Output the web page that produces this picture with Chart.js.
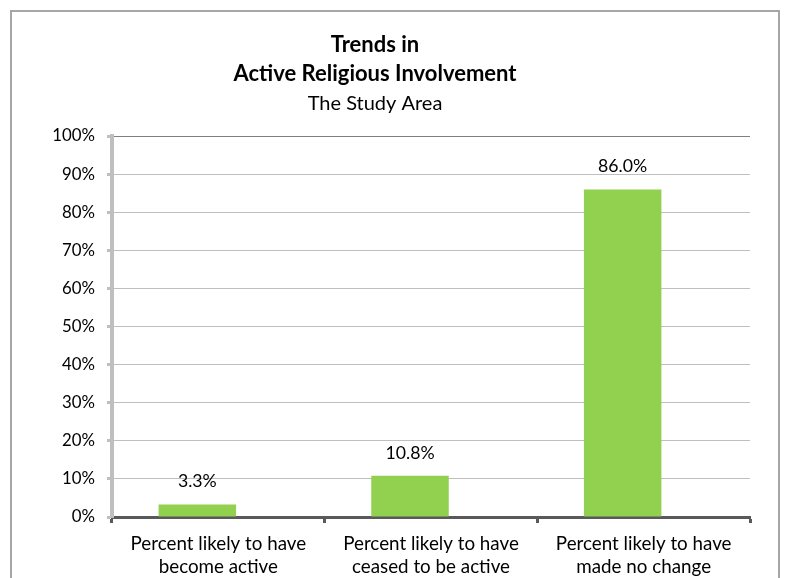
<!DOCTYPE html>
<html>
<head>
<meta charset="utf-8">
<script src="https://cdn.jsdelivr.net/npm/chart.js@4.4.1/dist/chart.umd.min.js"></script>
<style>
  html, body { margin: 0; padding: 0; background: #fff; overflow: hidden; }
  #frame {
    position: absolute; left: 10px; top: 10px;
    width: 766px; height: 620px;
    border: 2px solid #a6a6a6;
    background: #fff;
  }
  #wrap { position: absolute; left: 0; top: 0; width: 779px; height: 578px; }
</style>
</head>
<body>
<div id="frame"></div>
<div id="wrap"><canvas id="myChart"></canvas></div>
<script>
var categories = [
  ['Percent likely to have', 'become active'],
  ['Percent likely to have', 'ceased to be active'],
  ['Percent likely to have', 'made no change']
];
var involvement = [3.3, 10.8, 86.0];
var emptySeries = [0, 0, 0];
var valueLabels = ['3.3%', '10.8%', '86.0%'];

var FONT = "Lato, 'Open Sans', sans-serif";

// value labels sitting above each bar of the first series
var barLabels = {
  id: 'barLabels',
  afterDatasetsDraw: function (chart) {
    var ctx = chart.ctx;
    var meta = chart.getDatasetMeta(0);
    ctx.save();
    ctx.font = '17.7px ' + FONT;
    ctx.fillStyle = '#000';
    ctx.textAlign = 'center';
    ctx.textBaseline = 'middle';
    meta.data.forEach(function (bar, i) {
      ctx.fillText(valueLabels[i], bar.x, bar.y - 23);
    });
    ctx.restore();
  }
};

var ctx = document.getElementById('myChart');

new Chart(ctx, {
  type: 'bar',
  data: {
    labels: categories,
    datasets: [{
      data: involvement,
      backgroundColor: '#92d050',
      borderWidth: 0,
      barPercentage: 1.845,
      categoryPercentage: 0.395
    }, {
      // empty second series, keeps the slot on the right of each group
      data: emptySeries,
      backgroundColor: 'rgba(0,0,0,0)',
      borderWidth: 0,
      barPercentage: 1.845,
      categoryPercentage: 0.395
    }]
  },
  options: {
    responsive: true,
    maintainAspectRatio: false,
    animation: false,
    layout: { padding: { left: 0, right: 29, top: 0, bottom: 0 } },
    plugins: {
      legend: { display: false },
      tooltip: { enabled: false },
      title: {
        display: true,
        text: ['Trends in', 'Active Religious Involvement'],
        color: '#000',
        font: { family: FONT, size: 22, weight: 'bold', lineHeight: 1.32 },
        padding: { top: 30.5, bottom: 2.5 }
      },
      subtitle: {
        display: true,
        text: 'The Study Area',
        color: '#000',
        font: { family: FONT, size: 20, lineHeight: 1.2 },
        padding: { top: 0, bottom: 21 }
      }
    },
    scales: {
      x: {
        grid: {
          offset: true,
          drawOnChartArea: false,
          drawTicks: true,
          tickLength: 6,
          tickWidth: 3,
          tickColor: '#595959'
        },
        border: { display: true, color: '#595959', width: 3 },
        ticks: {
          color: '#000',
          font: { family: FONT, size: 18.8, lineHeight: 1.22 },
          padding: 9.5,
          maxRotation: 0,
          autoSkip: false
        },
        afterFit: function (scale) { scale.height = 61; }
      },
      y: {
        min: 0,
        max: 100,
        ticks: {
          stepSize: 10,
          color: '#000',
          font: { family: FONT, size: 16.8 },
          padding: 12,
          callback: function (v) { return v + '%'; }
        },
        grid: {
          color: function (c) { return c.tick && c.tick.value === 100 ? '#7f7f7f' : '#bfbfbf'; },
          lineWidth: 1,
          drawTicks: true,
          tickLength: 5,
          tickWidth: 3,
          tickColor: '#bfbfbf'
        },
        border: { display: true, color: '#bfbfbf', width: 4 },
        afterFit: function (scale) { scale.width = 112; }
      }
    }
  },
  plugins: [barLabels]
});
</script>
</body>
</html>
